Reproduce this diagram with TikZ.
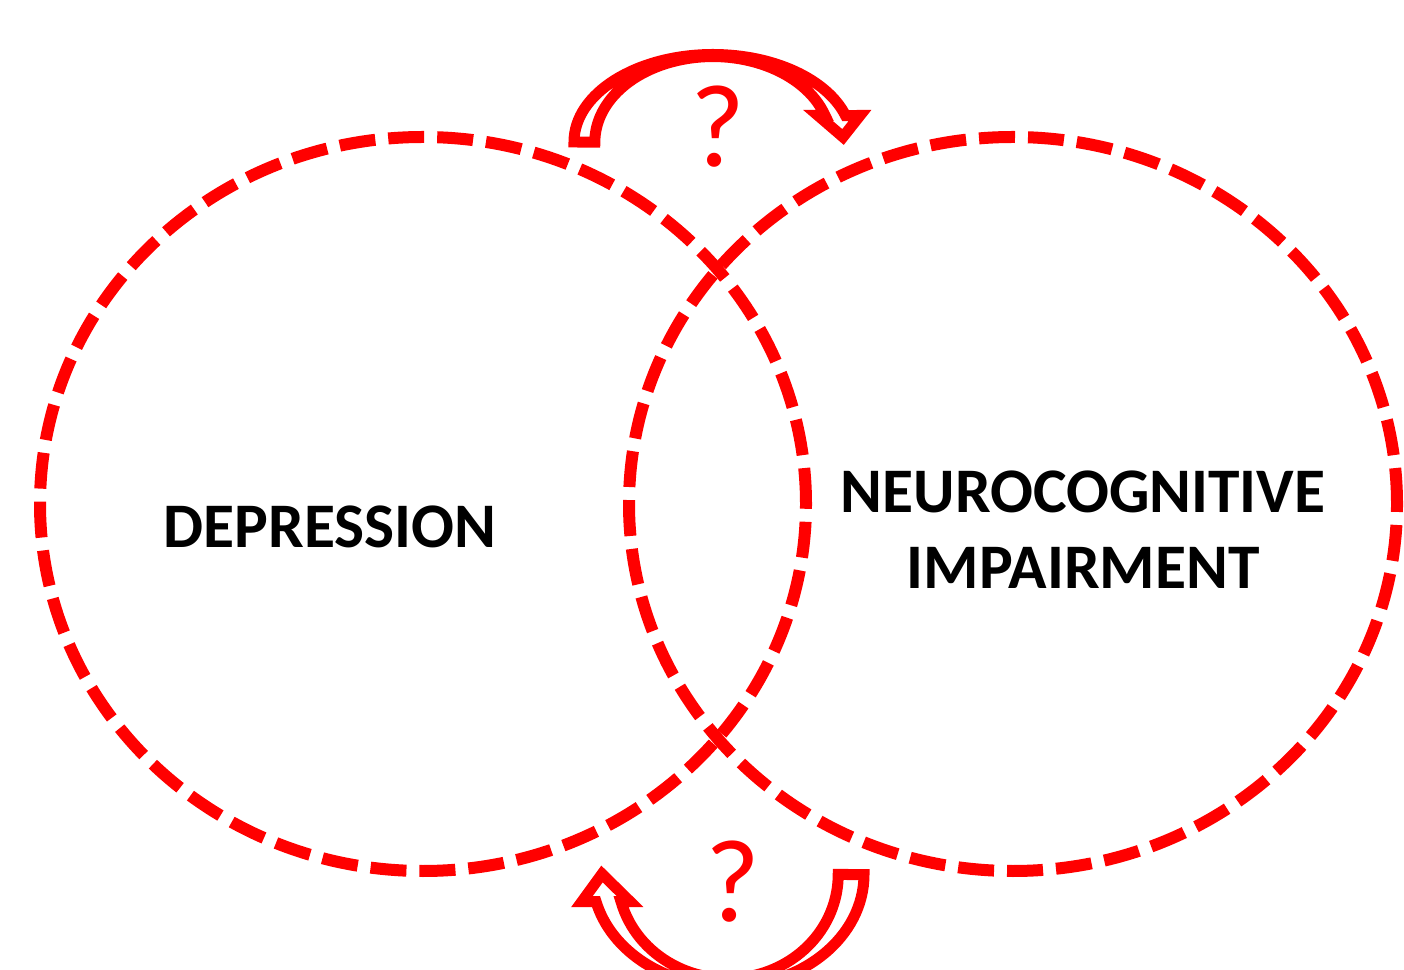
\documentclass[tikz,border=0pt]{standalone}
\usepackage{fontspec}
\setmainfont{Carlito}
\begin{document}
\begin{tikzpicture}[x=1pt,y=1pt,
  ring/.style={draw=red, line width=12pt, dash pattern=on 36pt off 13pt},
  bigarrow/.style={draw=red, fill=white, line width=11pt, line join=miter, miter limit=12},
  label/.style={font=\fontsize{63.5}{76}\selectfont\bfseries, align=center, text=black, inner sep=0pt},
  qmark/.style={font=\fontsize{118}{120}\selectfont, text=red, inner sep=0pt}]
\useasboundingbox (0,0) rectangle (1404,969);
\clip (0,0) rectangle (1404,969);
% ellipses
\draw[ring] (423,465) ellipse[x radius=383pt, y radius=367pt];
\draw[ring] (1013,465) ellipse[x radius=384pt, y radius=367pt];
% labels
\node[label] (dep) at (330,442) {DEPRESSION};
\node[label] (neu) at (1083,439) {NEUROCOGNITIVE\\IMPAIRMENT};
% question marks
\node[qmark] (q1) at (718,842) {?};
\node[qmark] (q2) at (733,87) {?};
% top curved arrow
\draw[bigarrow] (574,827)
  arc[start angle=180, end angle=17.6, x radius=139pt, y radius=87.5pt]
  -- (860,853.5) -- (843,832) -- (818,853.5) -- (825,853.5)
  arc[start angle=18.1, end angle=180, x radius=118pt, y radius=85.5pt]
  -- cycle;
% bottom curved arrow
\draw[bigarrow] (864,94.5)
  arc[start angle=0, end angle=-166.05, x radius=136pt, y radius=112pt]
  -- (582,67.5) -- (602,95) -- (630,67.5) -- (621,67.5)
  arc[start angle=-164.95, end angle=0, x radius=110.5pt, y radius=104pt]
  -- cycle;
\end{tikzpicture}
\end{document}
